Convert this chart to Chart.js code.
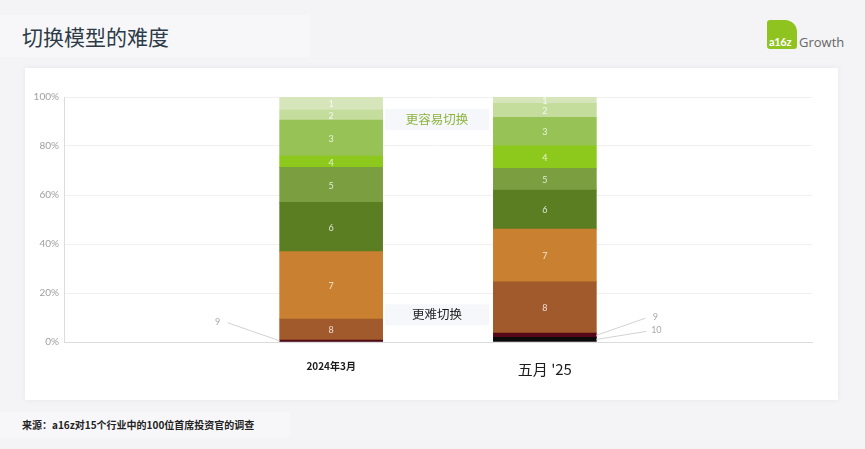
<!DOCTYPE html>
<html lang="zh">
<head>
<meta charset="utf-8">
<title>切换模型的难度</title>
<script src="https://cdn.jsdelivr.net/npm/chart.js"></script>
<style>
  body { margin: 0; width: 865px; height: 449px; background: #f4f4f6; position: relative; overflow: hidden;
         font-family: "Noto Sans CJK SC", "Noto Sans", sans-serif; }
  .titlebox { position: absolute; left: 0; top: 15px; width: 310px; height: 42px; background: #f7f7f9; }
  h1 { position: absolute; left: 22px; top: 20px; margin: 0; font-size: 21px; font-weight: 400; color: #2d3b48; line-height: 32px; }
  .card { position: absolute; left: 25px; top: 68px; width: 813px; height: 332px; background: #fff;
          box-shadow: 0 0 6px rgba(0,0,0,0.06); }
  .logo { position: absolute; left: 767px; top: 20px; width: 30px; height: 29px; background: #8fc31f;
          border-radius: 3px 12px 3px 3px; }
  .logo span { position: absolute; left: 2px; bottom: 1px; color: #fff; font: 700 11px Lato, sans-serif; letter-spacing: -0.3px; }
  .growth { position: absolute; left: 799px; top: 33px; font: 13px "Open Sans", sans-serif; color: #666; }
  .footbox { position: absolute; left: 0; top: 412px; width: 290px; height: 26px; background: #f7f7f9; }
  .foot { position: absolute; left: 22px; top: 417px; font-size: 10px; font-weight: 700; color: #222; }
  canvas { position: absolute; left: 0; top: 0; }
</style>
</head>
<body>
<div class="titlebox"></div>
<h1>切换模型的难度</h1>
<div class="logo"><span>a16z</span></div>
<div class="growth">Growth</div>
<div class="card"><canvas id="c" width="813" height="332"></canvas></div>
<div class="footbox"></div>
<div class="foot">来源：a16z对15个行业中的100位首席投资官的调查</div>

<script>
// level 1 = easiest to switch, level 10 = hardest
const levels = ['1', '2', '3', '4', '5', '6', '7', '8', '9', '10'];
const periods = ['2024年3月', "五月 '25"];
const values2024 = [5.3, 4.1, 14.7, 4.6, 14.3, 20.1, 27.5, 8.6, 0.8, 0];
const values2025 = [2.6, 5.7, 11.6, 9.2, 8.9, 15.9, 21.5, 21.0, 1.7, 1.9];
const colors = ['#d6e6ba', '#c4dc9c', '#97c255', '#8dc81c', '#7b9f40', '#5b7e23',
                '#c98031', '#a05a2b', '#560816', '#0c0a0a'];
const yTicks = [0, 20, 40, 60, 80, 100];

// empty slots on the category axis push the two bars to where they sit in the original
const slots = ['', '', periods[0], '', periods[1], '', ''];

// bottom of stack first
const datasets = levels.map((lv, i) => ({
  label: lv,
  data: [{ x: periods[0], y: values2024[i] }, { x: periods[1], y: values2025[i] }],
  backgroundColor: colors[i],
  barThickness: 103,
  borderWidth: 0
})).reverse();

const segLabels = {
  id: 'segLabels',
  afterDatasetsDraw(chart) {
    const ctx = chart.ctx;
    ctx.save();
    ctx.textAlign = 'center';
    ctx.textBaseline = 'middle';
    chart.data.datasets.forEach((ds, di) => {
      const meta = chart.getDatasetMeta(di);
      meta.data.forEach((bar, j) => {
        const v = ds.data[j].y;
        if (v <= 2) return;
        ctx.font = '9px Lato, sans-serif';
        ctx.fillStyle = 'rgba(255,255,255,0.8)';
        ctx.fillText(ds.label, bar.x, (bar.y + bar.base) / 2 + 1);
      });
    });

    // small segments labelled outside with leader lines
    const idx = l => chart.data.datasets.findIndex(d => d.label === l);
    const outside = [
      { lv: '9', j: 0, side: -1, tx: -62, ty: -19 },
      { lv: '9', j: 1, side: 1, tx: 59, ty: -18 },
      { lv: '10', j: 1, side: 1, tx: 60, ty: -9 }
    ];
    ctx.strokeStyle = '#d2d2d2';
    ctx.lineWidth = 1;
    ctx.font = '9px Lato, sans-serif';
    ctx.fillStyle = '#a8a8a8';
    outside.forEach(o => {
      const bar = chart.getDatasetMeta(idx(o.lv)).data[o.j];
      const ex = bar.x + o.side * bar.width / 2;
      const ey = (bar.y + bar.base) / 2;
      const tx = ex + o.tx, ty = ey + o.ty;
      ctx.beginPath();
      ctx.moveTo(tx - o.side * 10, ty + 1);
      ctx.lineTo(ex, ey);
      ctx.stroke();
      ctx.fillText(o.lv, tx, ty);
    });

    // between-bar annotations
    const xs = chart.scales.x, ys = chart.scales.y;
    const mx = (xs.getPixelForValue(2) + xs.getPixelForValue(4)) / 2 - 1;
    const notes = [
      { t: '更容易切换', v: 91, c: '#8db33f', w: 104 },
      { t: '更难切换', v: 11.3, c: '#1c1c1c', w: 104 }
    ];
    ctx.font = '12.5px "Noto Sans CJK SC", sans-serif';
    notes.forEach(n => {
      const y = ys.getPixelForValue(n.v);
      ctx.fillStyle = '#f5f7fa';
      ctx.fillRect(mx - n.w / 2, y - 10, n.w, 21);
      ctx.fillStyle = n.c;
      ctx.fillText(n.t, mx, y);
    });
    ctx.restore();
  }
};

new Chart(document.getElementById('c'), {
  type: 'bar',
  data: { labels: slots, datasets: datasets },
  options: {
    responsive: false,
    animation: false,
    layout: { padding: { left: 0, right: 26, top: 29, bottom: 0 } },
    plugins: { legend: { display: false }, tooltip: { enabled: false } },
    scales: {
      x: {
        stacked: true,
        afterFit: s => { s.height = 58; },
        grid: { display: false },
        border: { color: '#dcdcdc' },
        ticks: {
          padding: 10,
          autoSkip: false,
          maxRotation: 0,
          color: '#1c1c1c',
          font: c => c.index === 4
            ? { size: 15, family: '"Noto Sans CJK SC", sans-serif' }
            : { size: 10, weight: 'bold', family: '"Noto Sans CJK SC", sans-serif' }
        }
      },
      y: {
        stacked: true,
        min: 0,
        max: 100,
        afterBuildTicks: s => { s.ticks = yTicks.map(v => ({ value: v })); },
        afterFit: s => { s.width = 39; },
        grid: { color: '#f0f0f0', drawTicks: false },
        border: { color: '#dcdcdc' },
        ticks: {
          padding: 5,
          color: '#a0a0a0',
          font: { size: 10, family: 'Lato, sans-serif' },
          callback: v => v + '%'
        }
      }
    }
  },
  plugins: [segLabels]
});
</script>
</body>
</html>
